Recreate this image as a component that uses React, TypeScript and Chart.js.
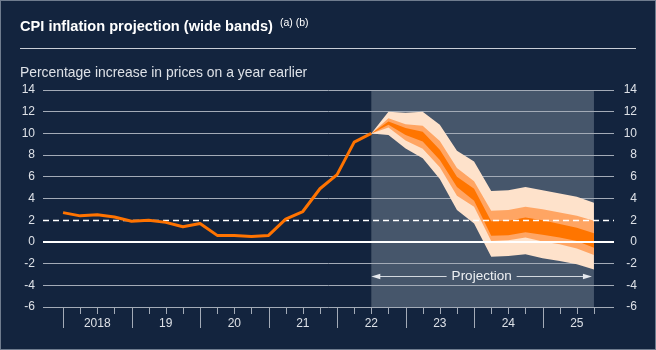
import React, { useEffect, useRef } from 'react';
import { Chart, registerables } from 'chart.js';

Chart.register(...registerables);

// ---------- data ----------
const quarters = [
  '2018 Q1', '2018 Q2', '2018 Q3', '2018 Q4',
  '2019 Q1', '2019 Q2', '2019 Q3', '2019 Q4',
  '2020 Q1', '2020 Q2', '2020 Q3', '2020 Q4',
  '2021 Q1', '2021 Q2', '2021 Q3', '2021 Q4',
  '2022 Q1', '2022 Q2', '2022 Q3', '2022 Q4',
  '2023 Q1', '2023 Q2', '2023 Q3', '2023 Q4',
  '2024 Q1', '2024 Q2', '2024 Q3', '2024 Q4',
  '2025 Q1', '2025 Q2', '2025 Q3', '2025 Q4',
];
const yearLabels = ['2018', '19', '20', '21', '22', '23', '24', '25'];
const yearLabelQuarters = ['2018 Q3', '2019 Q3', '2020 Q3', '2021 Q3', '2022 Q3', '2023 Q3', '2024 Q3', '2025 Q3'];

// CPI history, 2018 Q1 – 2022 Q3
const cpiHistory = [2.7, 2.4, 2.5, 2.3, 1.9, 2.0, 1.8, 1.4, 1.7, 0.6, 0.6, 0.5, 0.6, 2.1, 2.8, 4.9, 6.2, 9.2, 10.0];

// Fan chart bands, 2022 Q3 – 2025 Q4
const fanStartQuarter = '2022 Q3';
const outerUpper = [10.0, 12.0, 11.9, 12.0, 10.8, 8.4, 7.4, 4.7, 4.75, 5.05, 4.75, 4.45, 4.15, 3.6];
const middleUpper = [10.0, 11.4, 10.85, 10.7, 9.3, 6.8, 5.6, 2.87, 2.93, 3.24, 3.02, 2.72, 2.41, 1.95];
const innerUpper = [10.0, 11.1, 10.5, 10.15, 8.5, 6.0, 4.9, 1.9, 1.94, 2.25, 2.0, 1.64, 1.3, 0.8];
const innerLower = [10.0, 10.8, 9.85, 9.25, 7.55, 5.05, 3.8, 0.56, 0.62, 0.9, 0.65, 0.4, 0.09, -0.53];
const middleLower = [10.0, 10.55, 9.35, 8.58, 6.88, 4.26, 3.25, 0.09, 0.15, 0.4, 0.03, -0.22, -0.6, -1.2];
const outerLower = [10.0, 9.85, 8.6, 7.7, 5.8, 2.95, 1.7, -1.38, -1.3, -1.14, -1.5, -1.76, -2.05, -2.55];

const inflationTarget = 2;
const yMin = -6;
const yMax = 14;
const yStep = 2;
const projectionLabelLevel = -3.15;

const titleText = 'CPI inflation projection (wide bands)';
const titleNotes = '(a) (b)';
const subtitleText = 'Percentage increase in prices on a year earlier';
const projectionText = 'Projection';

// ---------- styles ----------
const FONT = '"Liberation Sans", Arial, Helvetica, sans-serif';
const BG = '#13243e';
const SHADE = '#46566b';
const GRID = '#a3abb7';
const TEXT = '#dde1e7';
const ORANGE = '#ff7300';
const INNER = '#ff7500';
const MIDDLE = '#ffa563';
const OUTER = '#fee2cb';

const fanStart = quarters.indexOf(fanStartQuarter);
const fanEnd = fanStart + outerUpper.length - 1;
const histPts = cpiHistory.map((v, i) => ({ x: i, y: v }));
const fanPts = (arr: number[]) => arr.map((v, i) => ({ x: fanStart + i, y: v }));

const decor = {
  id: 'decor',
  beforeDraw(chart: any) {
    const { ctx, chartArea, scales } = chart;
    ctx.save();
    ctx.fillStyle = BG;
    ctx.fillRect(0, 0, chart.width, chart.height);
    ctx.strokeStyle = '#6f7c8e';
    ctx.lineWidth = 1;
    ctx.strokeRect(0.5, 0.5, chart.width - 1, chart.height - 1);

    ctx.textBaseline = 'alphabetic';
    ctx.textAlign = 'left';
    ctx.fillStyle = '#ffffff';
    ctx.font = `bold 14.6px ${FONT}`;
    ctx.fillText(titleText, 20, 31);
    const tw = ctx.measureText(titleText).width;
    ctx.font = `10.5px ${FONT}`;
    ctx.fillText(titleNotes, 20 + tw + 7, 26);

    ctx.fillStyle = '#c9ced6';
    ctx.fillRect(20, 48, 616, 1);

    ctx.fillStyle = TEXT;
    ctx.font = `13.9px ${FONT}`;
    ctx.fillText(subtitleText, 20, 77);

    const x0 = scales.x.getPixelForValue(fanStart);
    const x1 = scales.x.getPixelForValue(fanEnd);
    ctx.fillStyle = SHADE;
    ctx.fillRect(x0, chartArea.top, x1 - x0, chartArea.bottom - chartArea.top);
    ctx.restore();
  },
  afterDatasetDraw(chart: any, args: any) {
    if (args.index !== 1) return;
    const { ctx, chartArea, scales } = chart;
    ctx.save();
    const yz = Math.round(scales.y.getPixelForValue(0));
    ctx.strokeStyle = '#ffffff';
    ctx.lineWidth = 2;
    ctx.beginPath();
    ctx.moveTo(chartArea.left, yz);
    ctx.lineTo(chartArea.right, yz);
    ctx.stroke();

    const yt = Math.round(scales.y.getPixelForValue(inflationTarget)) + 0.5;
    ctx.lineWidth = 1.5;
    ctx.setLineDash([6, 4]);
    ctx.beginPath();
    ctx.moveTo(chartArea.left, yt);
    ctx.lineTo(chartArea.right, yt);
    ctx.stroke();
    ctx.restore();
  },
  afterDraw(chart: any) {
    const { ctx, chartArea, scales } = chart;
    ctx.save();
    // quarter tick marks
    ctx.strokeStyle = GRID;
    ctx.lineWidth = 1;
    quarters.forEach((q, i) => {
      const x = Math.round(scales.x.getPixelForValue(i)) + 0.5;
      const len = q.endsWith('Q1') ? 21 : 7;
      ctx.beginPath();
      ctx.moveTo(x, chartArea.bottom);
      ctx.lineTo(x, chartArea.bottom + len);
      ctx.stroke();
    });

    // projection arrow
    const xa = scales.x.getPixelForValue(fanStart);
    const xb = scales.x.getPixelForValue(fanEnd) - 2;
    const ya = Math.round(scales.y.getPixelForValue(projectionLabelLevel)) + 0.5;
    ctx.font = `13.5px ${FONT}`;
    const pw = ctx.measureText(projectionText).width;
    const xm = (xa + xb) / 2;
    ctx.fillStyle = '#eef0f3';
    ctx.textAlign = 'center';
    ctx.textBaseline = 'middle';
    ctx.fillText(projectionText, xm, ya);
    ctx.strokeStyle = '#d3d8df';
    ctx.fillStyle = '#e6e9ee';
    ctx.beginPath();
    ctx.moveTo(xa + 8, ya);
    ctx.lineTo(xm - pw / 2 - 5, ya);
    ctx.moveTo(xm + pw / 2 + 5, ya);
    ctx.lineTo(xb - 8, ya);
    ctx.stroke();
    ctx.beginPath();
    ctx.moveTo(xa, ya);
    ctx.lineTo(xa + 9, ya - 2.8);
    ctx.lineTo(xa + 9, ya + 2.8);
    ctx.closePath();
    ctx.fill();
    ctx.beginPath();
    ctx.moveTo(xb, ya);
    ctx.lineTo(xb - 9, ya - 2.8);
    ctx.lineTo(xb - 9, ya + 2.8);
    ctx.closePath();
    ctx.fill();
    ctx.restore();
  },
};

export default function App() {
  const ref = useRef<HTMLCanvasElement>(null);
  useEffect(() => {
    document.body.style.margin = '0';
    const band = (data: any[], color: string, fill: any) => ({
      data,
      borderColor: 'rgba(0,0,0,0)',
      borderWidth: 0,
      backgroundColor: color,
      pointRadius: 0,
      fill,
      tension: 0,
    });
    const chart = new Chart(ref.current as HTMLCanvasElement, {
      type: 'line',
      data: {
        datasets: [
          {
            data: histPts,
            borderColor: ORANGE,
            borderWidth: 3,
            pointRadius: 0,
            fill: false,
            tension: 0,
            borderJoinStyle: 'round',
          } as any,
          band(fanPts(innerUpper), INNER, '+1'),
          band(fanPts(innerLower), INNER, false),
          band(fanPts(middleUpper), MIDDLE, '+1'),
          band(fanPts(middleLower), MIDDLE, false),
          band(fanPts(outerUpper), OUTER, '+1'),
          band(fanPts(outerLower), OUTER, false),
        ],
      },
      options: {
        animation: false,
        responsive: false,
        devicePixelRatio: 1,
        layout: { padding: { top: 90, right: 19, bottom: 0, left: 0 } },
        plugins: { legend: { display: false }, tooltip: { enabled: false } },
        scales: {
          x: {
            type: 'linear',
            min: -1.17,
            max: 32.17,
            afterBuildTicks: (s: any) => {
              s.ticks = yearLabelQuarters.map((q) => ({ value: quarters.indexOf(q) }));
            },
            ticks: {
              autoSkip: false,
              maxRotation: 0,
              padding: 9,
              color: TEXT,
              font: { family: FONT, size: 12 },
              callback: (v: any) => {
                const idx = yearLabelQuarters.indexOf(quarters[Math.round(v)]);
                return idx >= 0 ? yearLabels[idx] : '';
              },
            },
            grid: { display: false, drawTicks: false },
            border: { display: false },
            afterFit: (s: any) => {
              s.height = 43;
            },
          },
          y: {
            position: 'left',
            min: yMin,
            max: yMax,
            ticks: { stepSize: yStep, padding: 8, color: TEXT, font: { family: FONT, size: 12 } },
            grid: {
              drawTicks: false,
              lineWidth: 1,
              color: (c: any) =>
                c.tick && (c.tick.value === 0 || c.tick.value === inflationTarget) ? 'rgba(0,0,0,0)' : GRID,
            },
            border: { display: false },
            afterFit: (s: any) => {
              s.width = 43;
            },
          },
          y2: {
            position: 'right',
            min: yMin,
            max: yMax,
            ticks: {
              stepSize: yStep,
              padding: 0,
              crossAlign: 'far',
              color: TEXT,
              font: { family: FONT, size: 12 },
            },
            grid: { drawOnChartArea: false, drawTicks: false },
            border: { display: false },
            afterFit: (s: any) => {
              s.width = 23;
            },
          },
        },
      } as any,
      plugins: [decor],
    });
    return () => chart.destroy();
  }, []);
  return (
    <div style={{ width: 656, height: 350 }}>
      <canvas ref={ref} width={656} height={350} style={{ display: 'block' }} />
    </div>
  );
}
